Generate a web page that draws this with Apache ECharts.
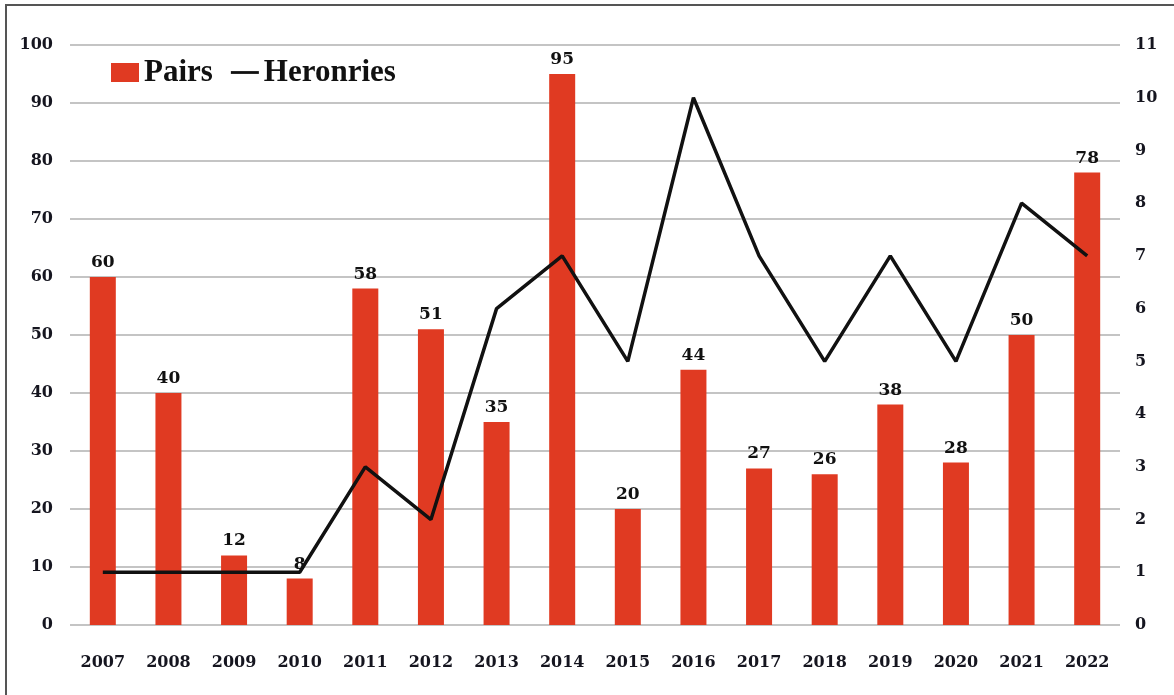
<!DOCTYPE html>
<html><head><meta charset="utf-8">
<script src="https://cdn.jsdelivr.net/npm/echarts@6/dist/echarts.min.js"></script>
<style>html,body{margin:0;padding:0;background:#fff}#c{width:1174px;height:695px}</style>
</head><body><div id="c"></div>
<script>
const years = ['2007','2008','2009','2010','2011','2012','2013','2014','2015','2016','2017','2018','2019','2020','2021','2022'];
const pairs = [60,40,12,8,58,51,35,95,20,44,27,26,38,28,50,78];
const heronries = [1,1,1,1,3,2,6,7,5,10,7,5,7,5,8,7];
const leftTicks = {min:0,max:100,interval:10};
const rightTicks = {min:0,max:11,interval:1};

const chart = echarts.init(document.getElementById('c'));
const axisFont = {fontFamily:'DejaVu Serif',fontWeight:'bold',fontSize:16,color:'#15151f'};
chart.setOption({
  animation:false,
  backgroundColor:'#fff',
  graphic:[{type:'rect',shape:{x:6,y:5,width:1170,height:700},style:{fill:'none',stroke:'#555',lineWidth:2}}],
  legend:{
    left:106, top:52, itemGap:18, itemWidth:28, itemHeight:19,
    textStyle:{fontFamily:'Liberation Serif',fontWeight:'bold',fontSize:31,color:'#111'},
    data:[{name:'Pairs',icon:'rect'},{name:'Heronries',icon:'path://M0,9 L30,9 L30,12 L0,12 Z'}]
  },
  grid:{left:70,right:54,top:45,bottom:70,containLabel:false},
  xAxis:{type:'category',data:years,
    axisLine:{show:false},axisTick:{show:false},
    axisLabel:Object.assign({margin:30,interval:0},axisFont)},
  yAxis:[
    {type:'value',min:leftTicks.min,max:leftTicks.max,interval:leftTicks.interval,
     axisLine:{show:false},axisTick:{show:false},
     axisLabel:Object.assign({margin:17},axisFont),
     splitLine:{lineStyle:{color:'#c4c4c4',width:2}}},
    {type:'value',min:rightTicks.min,max:rightTicks.max,interval:rightTicks.interval,
     axisLine:{show:false},axisTick:{show:false},
     axisLabel:Object.assign({margin:15},axisFont),
     splitLine:{show:false}}
  ],
  series:[
    {name:'Pairs',type:'bar',data:pairs,barWidth:26,yAxisIndex:0,
     itemStyle:{color:'#e03a22'},
     label:{show:true,position:'top',distance:6,fontFamily:'DejaVu Serif',fontWeight:'bold',fontSize:17,color:'#111'}},
    {name:'Heronries',type:'line',data:heronries,yAxisIndex:1,
     symbol:'none',lineStyle:{color:'#111',width:3.5},itemStyle:{color:'#111'}}
  ]
});
</script></body></html>
